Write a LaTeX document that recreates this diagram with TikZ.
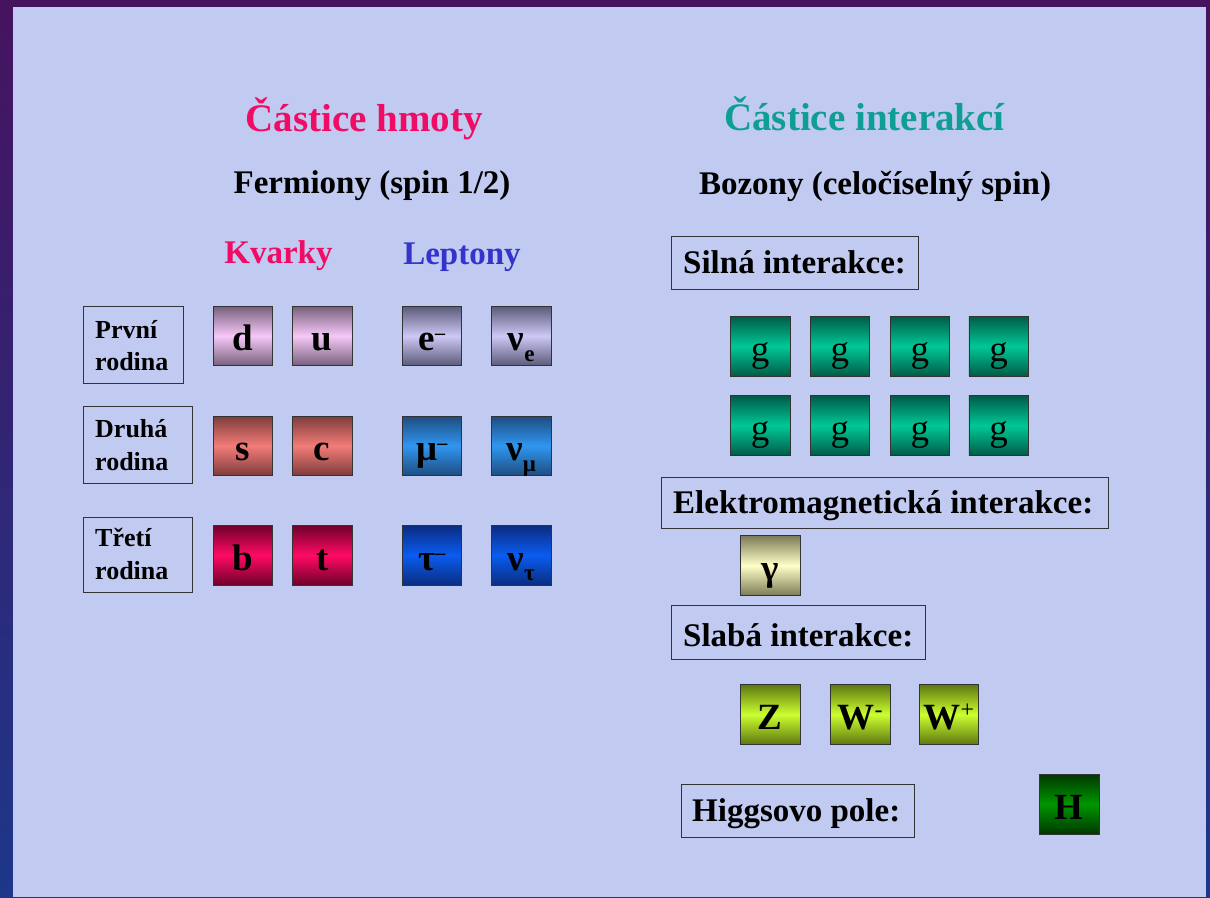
\documentclass[tikz,border=0pt]{standalone}
\usepackage{fontspec}
\setmainfont{Liberation Serif}
\definecolor{bgtop}{HTML}{46135F}
\definecolor{bgbot}{HTML}{1D378A}
\definecolor{panel}{HTML}{C1CAF0}
\definecolor{titlepink}{HTML}{F00C64}
\definecolor{titleteal}{HTML}{0E9E96}
\definecolor{leptblue}{HTML}{3434CC}
\definecolor{duE}{HTML}{76607A}\definecolor{duM}{HTML}{F6C8F8}
\definecolor{scE}{HTML}{7E3C3C}\definecolor{scM}{HTML}{F27C78}
\definecolor{btE}{HTML}{70002A}\definecolor{btM}{HTML}{FF0A64}
\definecolor{eE}{HTML}{5A5A78}\definecolor{eM}{HTML}{CEC8F6}
\definecolor{muE}{HTML}{1E4C80}\definecolor{muM}{HTML}{3096F0}
\definecolor{tauE}{HTML}{0A2C80}\definecolor{tauM}{HTML}{0A5CF0}
\definecolor{gE}{HTML}{005C48}\definecolor{gM}{HTML}{00C896}
\definecolor{phE}{HTML}{7C7C58}\definecolor{phM}{HTML}{FFFFC8}
\definecolor{zwE}{HTML}{5E7810}\definecolor{zwM}{HTML}{CCFF30}
\definecolor{hE}{HTML}{003800}\definecolor{hM}{HTML}{009600}
\newcommand\psup[1]{\raisebox{0.3em}{\fontsize{20}{20}\selectfont #1}}
\newcommand\wsup[1]{\raisebox{0.33em}{\fontsize{24}{24}\selectfont\mdseries #1}}
\newcommand\psub[1]{\raisebox{-0.28em}{\fontsize{23}{23}\selectfont #1}}
\begin{document}
\begin{tikzpicture}[x=1pt,y=-1pt,
  particle/.style={draw=black!80, line width=0.9pt, minimum width=59.5pt, minimum height=59.5pt,
    inner sep=0pt, text height=30pt, text depth=0pt, anchor=north west,
    font=\fontsize{37}{37}\selectfont\bfseries},
  shade3/.style 2 args={top color=#1, bottom color=#1, middle color=#2},
  labelbox/.style={draw=black!80, line width=1pt, inner sep=0pt, anchor=north west},
  boxtext/.style={anchor=base west, inner sep=0pt, font=\fontsize{33}{33}\selectfont\bfseries},
  famtext/.style={anchor=base west, inner sep=0pt, font=\fontsize{26}{26}\selectfont\bfseries},
  title/.style={anchor=base, inner sep=0pt, font=\fontsize{39}{39}\selectfont\bfseries},
  subtitle/.style={anchor=base, inner sep=0pt, font=\fontsize{33}{33}\selectfont\bfseries}]
\useasboundingbox (0,0) rectangle (1210,897);
\fill[top color=bgtop, bottom color=bgbot] (0,0) rectangle (1210,897);
\fill[panel] (13,7) rectangle (1206,897);

% titles
\node[title, text=titlepink] (t1) at (364,131.7) {Částice hmoty};
\node[title, text=titleteal] (t2) at (864.5,130.7) {Částice interakcí};
\node[subtitle] (s1) at (372,193.3) {Fermiony (spin 1/2)};
\node[subtitle] (s2) at (875,194) {Bozony (celočíselný spin)};
\node[subtitle, text=titlepink] (kv) at (278.5,263) {Kvarky};
\node[subtitle, text=leptblue] (lp) at (462,264) {Leptony};

% family boxes
\node[labelbox, minimum width=100.3pt, minimum height=77.3pt] (f1) at (82.7,305.7) {};
\node[labelbox, minimum width=109pt, minimum height=77.3pt] (f2) at (82.7,405.7) {};
\node[labelbox, minimum width=109.3pt, minimum height=75pt] (f3) at (82.7,516.7) {};
\node[famtext] (f1a) at (95,338.3) {První};
\node[famtext] (f1b) at (95,370) {rodina};
\node[famtext] (f2a) at (95,437.7) {Druhá};
\node[famtext] (f2b) at (95,470) {rodina};
\node[famtext] (f3a) at (95,546.7) {Třetí};
\node[famtext] (f3b) at (95,579.3) {rodina};

% quarks
\node[particle, shade3={duE}{duM}] (d) at (212.7,305.7) {d};
\node[particle, shade3={duE}{duM}] (u) at (292,305.7) {u};
\node[particle, shade3={scE}{scM}] (s) at (212.7,415.7) {s};
\node[particle, shade3={scE}{scM}] (c) at (292,415.7) {c};
\node[particle, shade3={btE}{btM}] (b) at (212.7,525) {b};
\node[particle, shade3={btE}{btM}] (t) at (292,525) {t};
% leptons
\node[particle, shade3={eE}{eM}] (e) at (401.7,305.7) {e\psup{–}};
\node[particle, shade3={eE}{eM}] (nue) at (491,305.7) {ν\psub{e}};
\node[particle, shade3={muE}{muM}] (mu) at (401.7,415.7) {μ\psup{–}};
\node[particle, shade3={muE}{muM}] (numu) at (491,415.7) {ν\psub{μ}};
\node[particle, shade3={tauE}{tauM}] (tau) at (401.7,525) {τ\psup{–}};
\node[particle, shade3={tauE}{tauM}] (nutau) at (491,525) {ν\psub{τ}};

% strong
\node[labelbox, minimum width=247pt, minimum height=53pt] (bs) at (670.7,236) {};
\node[boxtext] (bst) at (683,273.3) {Silná interakce:};
\foreach \x [count=\i] in {730,809.7,889.7,968.5}{
  \node[particle, shade3={gE}{gM}, font=\fontsize{37}{37}\selectfont] (ga\i) at (\x,316) {g};
  \node[particle, shade3={gE}{gM}, font=\fontsize{37}{37}\selectfont] (gb\i) at (\x,395.3) {g};
}
% electromagnetic
\node[labelbox, minimum width=447.3pt, minimum height=51pt] (be) at (660.7,476.7) {};
\node[boxtext] (bet) at (673,513.3) {Elektromagnetická interakce:};
\node[particle, shade3={phE}{phM}, font=\fontsize{37}{37}\selectfont\bfseries] (gam) at (740,535.3) {γ};
% weak
\node[labelbox, minimum width=254.6pt, minimum height=54pt] (bw) at (670.7,604.7) {};
\node[boxtext] (bwt) at (683,646.7) {Slabá interakce:};
\node[particle, shade3={zwE}{zwM}] (Z) at (740,684.3) {Z};
\node[particle, shade3={zwE}{zwM}] (Wm) at (830,684.3) {W\wsup{-}};
\node[particle, shade3={zwE}{zwM}] (Wp) at (918.8,684.3) {W\wsup{+}};
% higgs
\node[labelbox, minimum width=233.3pt, minimum height=52.7pt] (bh) at (680.7,784) {};
\node[boxtext] (bht) at (692,821.7) {Higgsovo pole:};
\node[particle, shade3={hE}{hM}] (H) at (1039,774) {H};
\end{tikzpicture}
\end{document}
